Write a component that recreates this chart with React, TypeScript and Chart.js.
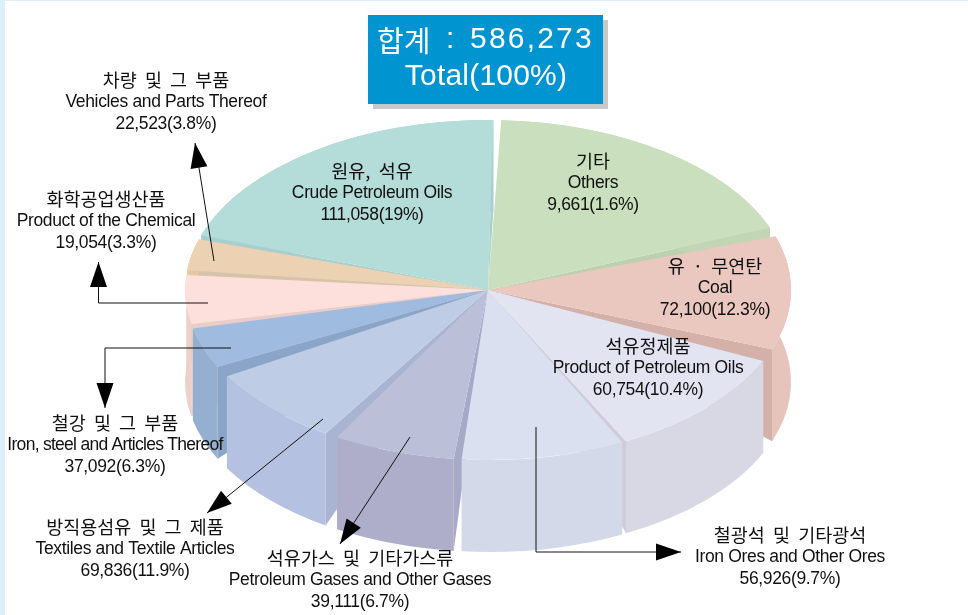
import React, { useEffect, useRef } from "react";
import { Chart, registerables } from "chart.js";

Chart.register(...registerables);

// Clockwise from the top of the pie, as drawn in the picture.
const categoriesKo = ["기타", "유 · 무연탄", "석유정제품", "철광석 및 기타광석", "석유가스 및 기타가스류", "방직용섬유 및 그 제품", "철강 및 그 부품", "화학공업생산품", "차량 및 그 부품", "원유, 석유"];
const categoriesEn = ["Others", "Coal", "Product of Petroleum Oils", "Iron Ores and Other Ores", "Petroleum Gases and Other Gases", "Textiles and Textile Articles", "Iron, steel and Articles Thereof", "Product of the Chemical", "Vehicles and Parts Thereof", "Crude Petroleum Oils"];
const values = [9661, 72100, 60754, 56926, 39111, 69836, 37092, 19054, 22523, 111058];
const shares = ["1.6", "12.3", "10.4", "9.7", "6.7", "11.9", "6.3", "3.3", "3.8", "19"];
// The reference's wedges are not proportional to its printed values, so the
// drawn sweep (degrees) and the gap after each wedge are read from the picture.
const sliceSweeps = [66, 38.8, 38.2, 31.3, 23.4, 27.1, 13.7, 16.7, 10.7, 72.2];
const sliceGaps = [3.1, 4.3, 0.8, 1.5, 2.5, 3.7, 1.5, 1.6, 1.4, 1.5];
const topColors = ["#c9dfbd", "#eac8c0", "#e3e4f1", "#dbe0f0", "#bcbfd8", "#bfcce5", "#9fbbe0", "#fde0dc", "#ecd2b3", "#b4dcd9"];
const wallColors = ["#c2d6b4", "#e6c4bc", "#d8d7e4", "#d3d9e8", "#aeaeca", "#b5c1e0", "#95afd0", "#edd0c8", "#e5c8a8", "#a8cfcf"];
const faceColors = ["#bdd0b0", "#d3b0a8", "#cfcbd8", "#c8cfe0", "#a8a9c8", "#a9b4d3", "#8aa5c8", "#e8cdc8", "#d8c3a8", "#a8cfcf"];
const totalKo = "합계";
const totalValue = "586,273";
const totalEn = "Total(100%)";

const START_ANGLE = 2.5;
const RADIUS = 303;
const SQUASH = 0.561;
const CENTER_Y = 290;
const DEPTH = 92;

const labelSpots = [
  [593, 161], [715, 266], [648, 346], [790, 535], [360, 558],
  [135, 527], [115, 423], [106, 199], [166, 80], [372, 171],
];
const labelTracking = [-0.35, -0.35, -0.35, -0.35, -0.35, -0.35, -0.72, -0.35, -0.35, -0.35];
const leaderPaths = [
  [[214, 261], [195, 143]],
  [[208, 303], [98.5, 303], [98.5, 262]],
  [[231, 348], [105, 348], [105, 408]],
  [[323, 419], [207, 513]],
  [[410, 437], [340, 544]],
  [[536, 427], [536, 552], [681, 552]],
];

const pieData = sliceSweeps.flatMap((s, i) => [s, sliceGaps[i]]);
const pieColors = topColors.flatMap((c) => [c, "rgba(0,0,0,0)"]);
const pieLabels = categoriesEn.flatMap((c) => [c, ""]);

const norm = (rad: number) => {
  const deg = ((rad * 180) / Math.PI + 90) % 360;
  return deg < 0 ? deg + 360 : deg;
};

const solidPie = {
  id: "solidPie",
  beforeDatasetsDraw(chart: any) {
    const ctx = chart.ctx;
    const arcs = chart.getDatasetMeta(0).data.filter((_: any, i: number) => i % 2 === 0);
    const order = arcs
      .map((el: any, i: number) => ({ el, i, key: Math.sin((el.startAngle + el.endAngle) / 2) }))
      .sort((a: any, b: any) => a.key - b.key);
    ctx.save();
    for (const { el, i } of order) {
      const cx = el.x;
      const R = el.outerRadius;
      const Ry = R * SQUASH;
      const face = (a: number) => {
        const px = cx + R * Math.cos(a);
        const py = CENTER_Y + Ry * Math.sin(a);
        ctx.fillStyle = faceColors[i];
        ctx.beginPath();
        ctx.moveTo(cx, CENTER_Y);
        ctx.lineTo(px, py);
        ctx.lineTo(px, py + DEPTH);
        ctx.closePath();
        ctx.fill();
      };
      if (norm(el.startAngle) >= 180) face(el.startAngle);
      if (norm(el.endAngle) < 180) face(el.endAngle);
      ctx.fillStyle = wallColors[i];
      ctx.beginPath();
      ctx.ellipse(cx, CENTER_Y, R, Ry, 0, el.startAngle, el.endAngle);
      ctx.ellipse(cx, CENTER_Y + DEPTH, R, Ry, 0, el.endAngle, el.startAngle, true);
      ctx.closePath();
      ctx.fill();
    }
    ctx.restore();
    const y0 = arcs[0].y;
    ctx.save();
    ctx.translate(0, CENTER_Y);
    ctx.scale(1, SQUASH);
    ctx.translate(0, -y0);
  },
  afterDatasetsDraw(chart: any) {
    chart.ctx.restore();
  },
};

const drawLine = (ctx: any, text: string, x: number, y: number, font: string, ls = "0px", ws = "0px") => {
  ctx.font = font;
  ctx.letterSpacing = ls;
  ctx.wordSpacing = ws;
  ctx.fillText(text, x, y);
};

const annotations = {
  id: "annotations",
  afterDraw(chart: any) {
    const ctx = chart.ctx;
    ctx.save();
    // total box
    ctx.fillStyle = "#c8c8c8";
    ctx.fillRect(373, 20, 235, 89);
    ctx.fillStyle = "#0095d0";
    ctx.fillRect(368, 15, 235, 89);
    ctx.fillStyle = "#ffffff";
    ctx.textBaseline = "middle";
    ctx.textAlign = "left";
    drawLine(ctx, totalKo, 377, 41, "29px 'Noto Sans CJK KR'");
    drawLine(ctx, ":", 446, 40, "30px 'Liberation Sans'");
    drawLine(ctx, totalValue, 470, 40, "30px 'Liberation Sans'", "2.2px");
    ctx.textAlign = "center";
    drawLine(ctx, totalEn, 486, 77, "30px 'Liberation Sans'", "0.2px");

    // leaders
    ctx.strokeStyle = "#111111";
    ctx.fillStyle = "#000000";
    ctx.lineWidth = 1;
    for (const path of leaderPaths) {
      ctx.beginPath();
      path.forEach(([x, y], i) => (i ? ctx.lineTo(x, y) : ctx.moveTo(x, y)));
      ctx.stroke();
      const [x1, y1] = path[path.length - 2];
      const [x2, y2] = path[path.length - 1];
      const a = Math.atan2(y2 - y1, x2 - x1);
      ctx.save();
      ctx.translate(x2, y2);
      ctx.rotate(a);
      ctx.beginPath();
      ctx.moveTo(0, 0);
      ctx.lineTo(-25, -8.5);
      ctx.lineTo(-25, 8.5);
      ctx.closePath();
      ctx.fill();
      ctx.restore();
    }

    // labels
    ctx.fillStyle = "#111111";
    ctx.textAlign = "center";
    categoriesKo.forEach((ko, i) => {
      const [x, y] = labelSpots[i];
      drawLine(ctx, ko, x, y, "18.5px 'Noto Sans CJK KR'", "0px", "4px");
      drawLine(ctx, categoriesEn[i], x, y + 22, "17.5px 'Liberation Sans'", `${labelTracking[i]}px`);
      drawLine(ctx, `${values[i].toLocaleString("en-US")}(${shares[i]}%)`, x, y + 44, "17.5px 'Liberation Sans'", "-0.35px");
    });
    ctx.restore();
  },
};

export default function App() {
  const ref = useRef<HTMLCanvasElement>(null);
  useEffect(() => {
    const chart = new Chart(ref.current as HTMLCanvasElement, {
      type: "pie",
      data: {
        labels: pieLabels,
        datasets: [
          {
            data: pieData,
            backgroundColor: pieColors,
            borderWidth: 0,
            clip: false,
          } as any,
        ],
      },
      options: {
        animation: false,
        responsive: false,
        rotation: START_ANGLE,
        radius: RADIUS,
        layout: { padding: { left: 8 } },
        plugins: { legend: { display: false }, tooltip: { enabled: false }, title: { display: false } },
      } as any,
      plugins: [solidPie, annotations],
    });
    return () => chart.destroy();
  }, []);
  return (
    <div style={{ position: "absolute", left: 0, top: 0, width: 968, height: 615, background: "#dceffb", overflow: "hidden" }}>
      <div style={{ position: "absolute", left: 5, top: 1, width: 963, height: 614, background: "#ffffff" }} />
      <canvas ref={ref} width={968} height={615} style={{ position: "absolute", left: 0, top: 0, display: "block" }} />
    </div>
  );
}
